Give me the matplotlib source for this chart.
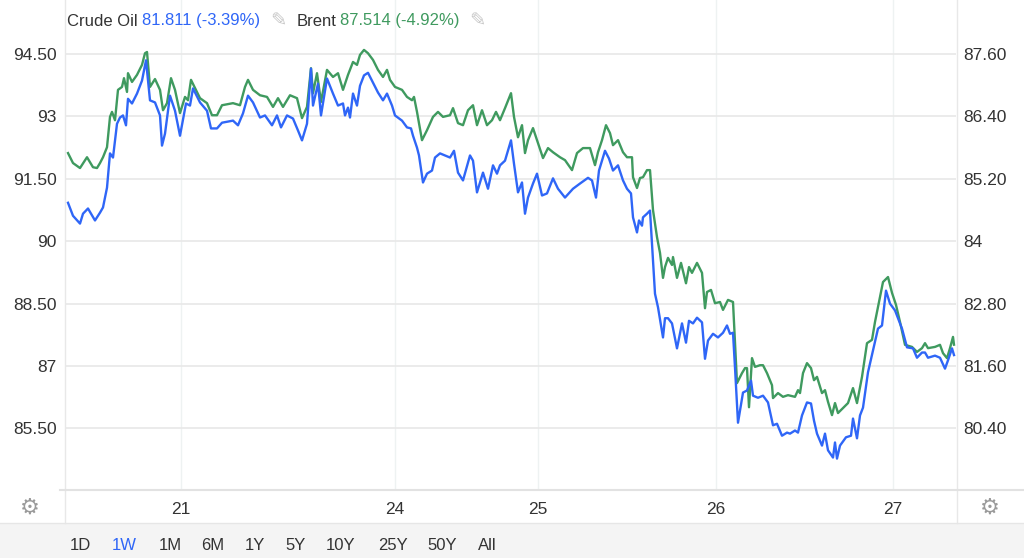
import matplotlib

matplotlib.use("Agg")
import matplotlib.pyplot as plt
from matplotlib.lines import Line2D
from matplotlib.patches import Rectangle

# bar index (8-minute bars) and prices
brent_bar = [2, 7, 14, 21, 27, 31, 34, 37, 41, 44, 46, 49, 52, 56, 58, 61, 62, 66, 71, 76,
             79, 81, 84, 89, 94, 97, 101, 105, 109, 114, 119, 122, 125, 134, 141, 146, 151, 156, 167, 174,
             179, 182, 187, 194, 201, 207, 212, 217, 224, 231, 236, 241, 245, 247, 251, 255, 261, 267, 272, 277,
             282, 287, 291, 294, 298, 302, 307, 312, 317, 321, 324, 329, 336, 341, 346, 348, 351, 356, 361, 367,
             372, 377, 384, 387, 392, 397, 402, 407, 411, 416, 421, 426, 430, 434, 439, 445, 448, 452, 456, 459,
             462, 467, 472, 477, 482, 487, 494, 499, 506, 511, 517, 524, 529, 532, 536, 540, 544, 547, 552, 557,
             561, 566, 567, 571, 574, 577, 581, 584, 587, 591, 594, 597, 599, 602, 606, 607, 611, 615, 620, 623,
             626, 631, 636, 639, 641, 645, 649, 654, 657, 662, 667, 671, 676, 679, 681, 683, 686, 689, 694, 697,
             701, 706, 707, 712, 717, 722, 729, 732, 734, 737, 741, 745, 748, 751, 756, 759, 762, 766, 769, 772,
             777, 782, 787, 791, 796, 801, 806, 809, 812, 817, 822, 826, 830, 834, 839, 846, 851, 856, 859, 862,
             869, 874, 877, 881, 884, 887, 888]
brent = [92.12, 91.88, 91.76, 92.02, 91.78, 91.76, 91.88, 92.02, 92.26, 92.99, 93.11, 92.91, 93.64, 93.71, 93.92, 93.59, 94.04, 93.83, 94.00, 94.24,
         94.52, 94.55, 93.71, 93.90, 93.64, 93.15, 93.32, 93.92, 93.64, 93.08, 93.47, 93.39, 93.88, 93.44, 93.32, 93.03, 93.03, 93.27, 93.32, 93.27,
         93.71, 93.88, 93.64, 93.51, 93.47, 93.23, 93.44, 93.23, 93.51, 93.44, 92.96, 93.23, 94.16, 93.56, 94.04, 93.35, 94.12, 93.95, 94.04, 93.64,
         94.00, 94.31, 94.24, 94.48, 94.60, 94.52, 94.36, 94.12, 93.95, 94.12, 93.88, 93.71, 93.64, 93.47, 93.39, 93.47, 93.11, 92.43, 92.67, 92.99,
         93.11, 92.99, 93.03, 93.20, 92.84, 92.79, 93.15, 93.27, 92.79, 93.15, 92.79, 92.91, 93.11, 92.91, 93.20, 93.56, 92.99, 92.50, 92.79, 92.12,
         92.43, 92.72, 92.36, 92.00, 92.24, 92.14, 92.02, 91.95, 91.71, 92.12, 92.24, 92.24, 91.83, 92.14, 92.43, 92.79, 92.60, 92.31, 92.43, 92.14,
         92.02, 92.02, 91.54, 91.28, 91.52, 91.54, 91.71, 91.71, 90.75, 90.10, 89.72, 89.12, 89.38, 89.60, 89.43, 89.62, 89.12, 89.48, 88.99, 89.38,
         89.24, 89.48, 89.24, 88.39, 88.78, 88.83, 88.51, 88.54, 88.35, 88.59, 88.54, 86.59, 86.83, 86.95, 86.95, 86.01, 87.19, 86.98, 87.02, 87.02,
         86.83, 86.54, 86.23, 86.35, 86.26, 86.30, 86.26, 86.42, 86.35, 86.83, 87.07, 86.95, 86.66, 86.74, 86.35, 86.42, 86.14, 85.82, 86.11, 85.87,
         85.99, 86.11, 86.47, 86.11, 86.74, 87.55, 87.63, 88.06, 88.42, 89.02, 89.14, 88.76, 88.47, 88.06, 87.51, 87.46, 87.34, 87.43, 87.55, 87.43,
         87.46, 87.51, 87.31, 87.19, 87.43, 87.70, 87.514]

crude_bar = [2, 7, 14, 17, 22, 29, 34, 37, 41, 44, 47, 51, 54, 57, 60, 62, 66, 71, 76, 80,
             84, 89, 94, 96, 99, 104, 109, 114, 120, 124, 127, 134, 141, 145, 151, 156, 167, 172, 177, 182,
             187, 194, 199, 206, 211, 215, 221, 227, 232, 236, 241, 245, 247, 252, 255, 261, 267, 272, 277, 279,
             282, 284, 287, 291, 294, 298, 302, 307, 312, 317, 321, 326, 329, 336, 341, 345, 347, 351, 353, 357,
             361, 366, 369, 374, 379, 384, 388, 392, 397, 404, 407, 411, 417, 422, 427, 431, 434, 439, 445, 448,
             452, 456, 459, 462, 467, 471, 476, 481, 487, 492, 499, 507, 514, 522, 526, 530, 533, 539, 543, 547,
             552, 557, 561, 565, 567, 571, 573, 576, 577, 581, 584, 587, 589, 592, 597, 599, 602, 606, 611, 616,
             620, 623, 627, 631, 636, 639, 642, 647, 652, 657, 661, 664, 667, 669, 672, 677, 681, 685, 687, 692,
             697, 702, 707, 711, 716, 721, 724, 729, 732, 736, 741, 745, 748, 751, 756, 759, 762, 767, 769, 771,
             774, 780, 785, 787, 791, 794, 797, 802, 807, 812, 816, 820, 824, 829, 836, 841, 847, 851, 856, 859,
             862, 869, 874, 879, 882, 886, 888]
crude = [84.74, 84.49, 84.34, 84.53, 84.63, 84.40, 84.55, 84.65, 85.03, 85.69, 85.61, 86.26, 86.38, 86.42, 86.23, 86.74, 86.65, 86.84, 87.09, 87.48,
         86.71, 86.67, 86.42, 85.84, 86.07, 86.80, 86.51, 86.03, 86.65, 86.61, 86.94, 86.67, 86.51, 86.17, 86.17, 86.28, 86.32, 86.23, 86.46, 86.80,
         86.67, 86.38, 86.42, 86.23, 86.42, 86.19, 86.42, 86.36, 86.13, 85.94, 86.26, 87.32, 86.61, 87.03, 86.42, 87.13, 86.84, 86.61, 86.65, 86.42,
         86.57, 86.38, 86.84, 86.61, 86.99, 87.19, 87.24, 87.05, 86.86, 86.71, 86.84, 86.61, 86.42, 86.32, 86.19, 86.17, 86.03, 85.80, 85.65, 85.13,
         85.30, 85.36, 85.61, 85.69, 85.65, 85.61, 85.74, 85.32, 85.17, 85.65, 85.55, 84.94, 85.32, 85.01, 85.46, 85.30, 85.46, 85.55, 85.94, 85.49,
         84.94, 85.13, 84.53, 84.84, 85.11, 85.30, 84.88, 84.92, 85.21, 85.01, 84.84, 85.01, 85.11, 85.22, 85.17, 84.84, 85.36, 85.74, 85.59, 85.36,
         85.46, 85.17, 85.01, 84.92, 84.46, 84.17, 84.40, 84.30, 84.46, 84.53, 84.59, 83.63, 82.99, 82.73, 82.15, 82.52, 82.52, 82.42, 81.94, 82.42,
         82.05, 82.47, 82.42, 82.53, 82.44, 81.74, 82.09, 82.22, 82.15, 82.24, 82.38, 82.22, 82.24, 81.57, 80.51, 81.09, 81.13, 81.32, 81.03, 80.99,
         81.03, 80.90, 80.46, 80.49, 80.26, 80.32, 80.30, 80.36, 80.32, 80.65, 80.90, 80.88, 80.55, 80.30, 80.07, 80.30, 79.98, 79.84, 80.13, 79.82,
         80.07, 80.23, 80.26, 80.59, 80.21, 80.65, 80.80, 81.48, 81.90, 82.32, 82.38, 83.05, 82.80, 82.67, 82.32, 81.96, 81.94, 81.76, 81.86, 81.86,
         81.76, 81.80, 81.76, 81.55, 81.71, 81.94, 81.811]

day_bars = [115, 329, 472, 650, 827]
day_labels = ["21", "24", "25", "26", "27"]

brent_ticks = [94.5, 93.0, 91.5, 90.0, 88.5, 87.0, 85.5]
brent_tick_labels = ["94.50", "93", "91.50", "90", "88.50", "87", "85.50"]
crude_ticks = [87.6, 86.4, 85.2, 84.0, 82.8, 81.6, 80.4]
crude_tick_labels = ["87.60", "86.40", "85.20", "84", "82.80", "81.60", "80.40"]

ranges = ["1D", "1W", "1M", "6M", "1Y", "5Y", "10Y", "25Y", "50Y", "All"]
range_x = [80, 124, 170, 213, 255, 296, 341, 393, 442, 487]

BLUE = "#2f66f7"
GREEN = "#3f9a5f"
TEXT = "#333333"
GRID = "#e8e8e8"
VGRID = "#eef2f2"

plt.rcParams["font.family"] = ["Liberation Sans", "DejaVu Sans"]

W, H = 1024, 558
fig = plt.figure(figsize=(W / 100, H / 100), dpi=100)
fig.patch.set_facecolor("white")

ax = fig.add_axes([65 / W, 1 - 490 / H, (956 - 65) / W, 490 / H])
ax2 = ax.twinx()

ax.plot(brent_bar, brent, color=GREEN, lw=1.7, solid_joinstyle="round")
ax2.plot(crude_bar, crude, color=BLUE, lw=1.7, solid_joinstyle="round")

ax.set_xlim(-1, 890)
ax.set_ylim(84.02, 95.80)
# right axis scaled so that both sets of gridlines coincide
ax2.set_ylim(87.6 + (84.02 - 94.5) * 0.8, 87.6 + (95.80 - 94.5) * 0.8)

ax.set_yticks(brent_ticks)
ax.set_yticklabels(brent_tick_labels)
ax2.set_yticks(crude_ticks)
ax2.set_yticklabels(crude_tick_labels)
ax.set_xticks(day_bars)
ax.set_xticklabels(day_labels)

ax.grid(axis="y", color=GRID, lw=1.2)
ax.grid(axis="x", color=VGRID, lw=1.0)
ax.set_axisbelow(True)

for a in (ax, ax2):
    a.tick_params(length=0, labelsize=12.5, colors=TEXT)
    for s in a.spines.values():
        s.set_visible(False)
ax.tick_params(axis="y", pad=6)
ax2.tick_params(axis="y", pad=5)
ax.tick_params(axis="x", pad=9)

# frame lines of the widget
fig.add_artist(Line2D([65 / W, 65 / W], [1 - 523 / H, 1], color=GRID, lw=1.0))
fig.add_artist(Line2D([957 / W, 957 / W], [1 - 523 / H, 1], color=GRID, lw=1.0))
fig.add_artist(Line2D([60 / W, 1], [1 - 490 / H, 1 - 490 / H], color="#e2e2e2", lw=1.5))

# range selector band
fig.add_artist(Rectangle((0, 0), 1, (H - 523) / H, transform=fig.transFigure,
                         facecolor="#f4f4f4", edgecolor="none"))
fig.add_artist(Line2D([0, 1], [(H - 523) / H] * 2, color="#e6e6e6", lw=1.0))
for lab, x in zip(ranges, range_x):
    fig.text(x / W, 1 - 546 / H, lab, ha="center", va="center", fontsize=12,
             color=BLUE if lab == "1W" else TEXT)

# gear icons
for x in (30, 990):
    fig.text(x / W, 1 - 508 / H, "\u2699", ha="center", va="center", fontsize=16,
             color="#9a9a9a", family="DejaVu Sans")

# legend header
renderer = fig.canvas.get_renderer()
y_head = 1 - 21 / H
x = 67
parts = [("Crude Oil", TEXT, 4), ("81.811 (-3.39%)", BLUE, 10), ("\u270e", "#c8c8c8", 10),
         ("Brent", TEXT, 4), ("87.514 (-4.92%)", GREEN, 10), ("\u270e", "#c8c8c8", 0)]
for txt, col, gap in parts:
    fam = ["DejaVu Sans"] if txt == "\u270e" else ["Liberation Sans", "DejaVu Sans"]
    size = 14 if txt == "\u270e" else 12
    t = fig.text(x / W, y_head, txt, ha="left", va="center", fontsize=size, color=col, family=fam)
    x = t.get_window_extent(renderer).x1 + gap

fig.savefig("out.png", dpi=100, facecolor="white")
